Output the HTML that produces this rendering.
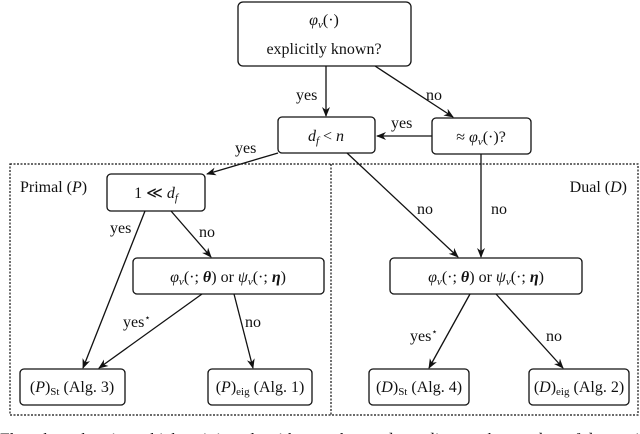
<!DOCTYPE html>
<html><head><meta charset="utf-8"><style>
html,body{margin:0;padding:0;background:#fff;width:640px;height:434px;overflow:hidden}
svg{display:block}
text{font-family:"Liberation Serif",serif;font-size:16px;fill:#111}
.m{font-style:italic}
</style></head><body>
<svg width="640" height="434" viewBox="0 0 640 434" xmlns="http://www.w3.org/2000/svg">
<defs><marker id="a" markerWidth="10" markerHeight="8" refX="9" refY="4" orient="auto" markerUnits="userSpaceOnUse"><path d="M0,0 L10,4 L0,8 L3,4 z" fill="#111"/></marker></defs>
<g fill="none" stroke="#111" stroke-width="1.3">
<rect x="10" y="164" width="628" height="251" stroke-dasharray="2,1.5" stroke-width="1.2"/>
<line x1="331" y1="164" x2="331" y2="415" stroke-dasharray="2,1.5" stroke-width="1.2"/>
<rect x="238" y="2" width="173" height="64" rx="5"/>
<rect x="278" y="117" width="97" height="36" rx="4"/>
<rect x="432" y="118" width="99" height="36" rx="4"/>
<rect x="107" y="174" width="98" height="37" rx="4"/>
<rect x="133" y="258" width="191" height="36" rx="4"/>
<rect x="390" y="258" width="192" height="36" rx="4"/>
<rect x="20" y="369" width="105" height="36" rx="4"/>
<rect x="208" y="369" width="104" height="36" rx="4"/>
<rect x="369" y="369" width="100" height="36" rx="4"/>
<rect x="529" y="369" width="100" height="36" rx="4"/>
<g marker-end="url(#a)">
<line x1="326" y1="66" x2="326" y2="116"/>
<line x1="375" y1="66" x2="453" y2="117"/>
<line x1="432" y1="136" x2="377" y2="136"/>
<line x1="278" y1="153" x2="207" y2="174"/>
<line x1="347" y1="153" x2="458" y2="257"/>
<line x1="481" y1="154" x2="481" y2="257"/>
<line x1="145" y1="211" x2="83" y2="368"/>
<line x1="171" y1="211" x2="211" y2="257"/>
<line x1="202" y1="294" x2="99" y2="368"/>
<line x1="234" y1="294" x2="253" y2="368"/>
<line x1="470" y1="294" x2="429" y2="368"/>
<line x1="496" y1="294" x2="563" y2="368"/>
</g></g>
<text x="324" y="25" text-anchor="middle"><tspan class="m">φ<tspan font-size="11" dy="3">v</tspan></tspan><tspan dy="-3">(·)</tspan></text>
<text x="324" y="54" text-anchor="middle">explicitly known?</text>
<text x="326" y="141" text-anchor="middle"><tspan class="m">d<tspan font-size="11" dy="3">f</tspan></tspan><tspan dy="-3"> &lt; </tspan><tspan class="m">n</tspan></text>
<text x="481" y="142" text-anchor="middle">≈ <tspan class="m">φ<tspan font-size="11" dy="3">v</tspan></tspan><tspan dy="-3">(·)?</tspan></text>
<text x="156" y="198" text-anchor="middle">1 ≪ <tspan class="m">d<tspan font-size="11" dy="3">f</tspan></tspan></text>
<text x="20" y="192">Primal (<tspan class="m">P</tspan>)</text>
<text x="627" y="192" text-anchor="end">Dual (<tspan class="m">D</tspan>)</text>
<text x="228" y="282" text-anchor="middle"><tspan class="m">φ<tspan font-size="11" dy="3">v</tspan></tspan><tspan dy="-3">(·; </tspan><tspan font-weight="bold" class="m">θ</tspan>) or <tspan class="m">ψ<tspan font-size="11" dy="3">v</tspan></tspan><tspan dy="-3">(·; </tspan><tspan font-weight="bold" class="m">η</tspan>)</text>
<text x="486" y="282" text-anchor="middle"><tspan class="m">φ<tspan font-size="11" dy="3">v</tspan></tspan><tspan dy="-3">(·; </tspan><tspan font-weight="bold" class="m">θ</tspan>) or <tspan class="m">ψ<tspan font-size="11" dy="3">v</tspan></tspan><tspan dy="-3">(·; </tspan><tspan font-weight="bold" class="m">η</tspan>)</text>
<text x="72" y="392" text-anchor="middle">(<tspan class="m">P</tspan>)<tspan font-size="11" dy="3">St</tspan><tspan dy="-3"> (Alg. 3)</tspan></text>
<text x="260" y="392" text-anchor="middle">(<tspan class="m">P</tspan>)<tspan font-size="11" dy="3">eig</tspan><tspan dy="-3"> (Alg. 1)</tspan></text>
<text x="419" y="392" text-anchor="middle">(<tspan class="m">D</tspan>)<tspan font-size="11" dy="3">St</tspan><tspan dy="-3"> (Alg. 4)</tspan></text>
<text x="579" y="392" text-anchor="middle">(<tspan class="m">D</tspan>)<tspan font-size="11" dy="3">eig</tspan><tspan dy="-3"> (Alg. 2)</tspan></text>
<text x="296" y="100">yes</text>
<text x="426" y="100">no</text>
<text x="391" y="128">yes</text>
<text x="235" y="153">yes</text>
<text x="417" y="214">no</text>
<text x="491" y="214">no</text>
<text x="110" y="233">yes</text>
<text x="199" y="237">no</text>
<text x="123" y="327">yes<tspan font-size="10" dy="-6">⋆</tspan></text>
<text x="245" y="327">no</text>
<text x="410" y="341">yes<tspan font-size="10" dy="-6">⋆</tspan></text>
<text x="546" y="341">no</text>
<text x="0" y="444" font-size="18" textLength="660" lengthAdjust="spacingAndGlyphs">Flowchart showing which training algorithm to choose depending on the number of data points</text>
</svg>
</body></html>
